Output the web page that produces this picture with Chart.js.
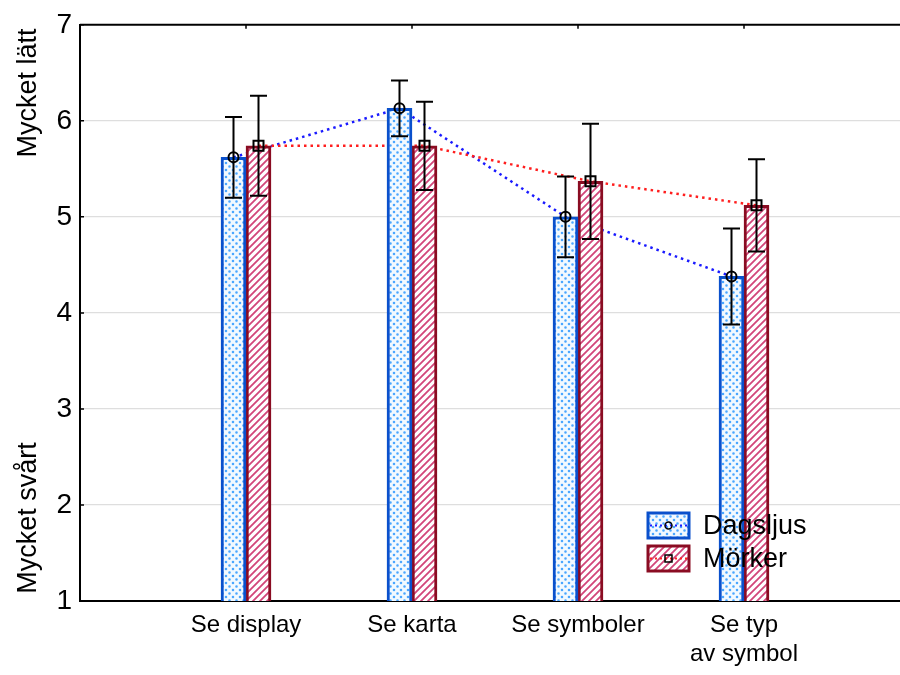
<!DOCTYPE html>
<html>
<head>
<meta charset="utf-8">
<script src="https://cdn.jsdelivr.net/npm/chart.js@4"></script>
<style>
  html, body { margin: 0; padding: 0; overflow: hidden; background: #fff; }
  #wrap { position: relative; width: 920px; height: 675px; }
</style>
</head>
<body>
<div id="wrap"><canvas id="chart"></canvas></div>
<script>
// Mean ratings (1 = Mycket svårt, 7 = Mycket lätt) with error bar half-widths
const categories = ['Se display', 'Se karta', 'Se symboler', ['Se typ', 'av symbol']];
const seriesNames = ['Dagsljus', 'Mörker'];
const dagsljus = [5.62, 6.13, 5.00, 4.38];
const dagsljusErr = [0.42, 0.29, 0.42, 0.50];
const morker = [5.74, 5.74, 5.37, 5.12];
const morkerErr = [0.52, 0.46, 0.60, 0.48];
const yTicks = [1, 2, 3, 4, 5, 6, 7];

const FONT = '"Liberation Sans", Arial, sans-serif';

// Fill patterns for the two series
function dotPattern() {
    const c = document.createElement('canvas');
    c.width = 7; c.height = 7;
    const g = c.getContext('2d');
    g.fillStyle = '#f2f9ff';
    g.fillRect(0, 0, 7, 7);
    g.fillStyle = '#4aa6ff';
    g.beginPath();
    g.arc(2, 2, 1.3, 0, Math.PI * 2);
    g.arc(5.5, 5.5, 1.3, 0, Math.PI * 2);
    g.fill();
    return g.createPattern(c, 'repeat');
}

function hatchPattern() {
    const c = document.createElement('canvas');
    c.width = 7; c.height = 7;
    const g = c.getContext('2d');
    g.fillStyle = '#ffffff';
    g.fillRect(0, 0, 7, 7);
    g.strokeStyle = '#d2467a';
    g.lineWidth = 1.8;
    g.beginPath();
    g.moveTo(-1, 8); g.lineTo(8, -1);
    g.moveTo(-1, 1); g.lineTo(1, -1);
    g.moveTo(6, 8); g.lineTo(8, 6);
    g.stroke();
    return g.createPattern(c, 'repeat');
}

const styles = [
    { border: '#0a50cc', fill: dotPattern(), line: '#1a1aff', marker: 'circle' },
    { border: '#8a0c22', fill: hatchPattern(), line: '#ff1e1e', marker: 'square' }
];
const errs = [dagsljusErr, morkerErr];

function drawMarker(ctx, type, x, y) {
    ctx.save();
    ctx.strokeStyle = '#000';
    ctx.lineWidth = 2;
    ctx.beginPath();
    if (type === 'circle') {
        ctx.arc(x, y, 5, 0, Math.PI * 2);
    } else {
        ctx.rect(x - 5, y - 5, 10, 10);
    }
    ctx.stroke();
    ctx.restore();
}

// Dotted lines between means (behind the bars), error bars and markers on top
const overlayPlugin = {
    id: 'overlay',
    beforeDatasetsDraw(chart) {
        const ctx = chart.ctx;
        ctx.save();
        ctx.beginPath();
        ctx.rect(chart.chartArea.left, chart.chartArea.top,
                 chart.chartArea.right - chart.chartArea.left,
                 chart.chartArea.bottom - chart.chartArea.top);
        ctx.clip();
        chart.data.datasets.forEach((ds, di) => {
            const pts = chart.getDatasetMeta(di).data;
            ctx.strokeStyle = styles[di].line;
            ctx.lineWidth = 2.5;
            ctx.setLineDash([2.5, 4]);
            ctx.beginPath();
            pts.forEach((p, i) => i ? ctx.lineTo(p.x, p.y) : ctx.moveTo(p.x, p.y));
            ctx.stroke();
        });
        ctx.restore();
    },
    afterDatasetsDraw(chart) {
        const ctx = chart.ctx;
        const yScale = chart.scales.y;
        chart.data.datasets.forEach((ds, di) => {
            const pts = chart.getDatasetMeta(di).data;
            pts.forEach((p, i) => {
                const v = ds.data[i].y;
                const top = yScale.getPixelForValue(v + errs[di][i]);
                const bot = yScale.getPixelForValue(v - errs[di][i]);
                ctx.save();
                ctx.strokeStyle = '#000';
                ctx.lineWidth = 2;
                ctx.beginPath();
                ctx.moveTo(p.x, top); ctx.lineTo(p.x, bot);
                ctx.moveTo(p.x - 8.5, top); ctx.lineTo(p.x + 8.5, top);
                ctx.moveTo(p.x - 8.5, bot); ctx.lineTo(p.x + 8.5, bot);
                ctx.stroke();
                ctx.restore();
                drawMarker(ctx, styles[di].marker, p.x, p.y);
            });
        });
    },
    afterDraw(chart) {
        const ctx = chart.ctx;
        const a = chart.chartArea;
        const xScale = chart.scales.x;
        const yScale = chart.scales.y;
        ctx.save();
        // top frame line with inward ticks
        ctx.strokeStyle = '#000';
        ctx.lineWidth = 2;
        ctx.beginPath();
        ctx.moveTo(a.left, a.top); ctx.lineTo(a.right, a.top);
        ctx.stroke();
        ctx.lineWidth = 1.5;
        ctx.beginPath();
        categories.forEach((c, i) => {
            const x = xScale.getPixelForValue(i + 1);
            ctx.moveTo(x, a.top); ctx.lineTo(x, a.top + 4);
        });
        yTicks.forEach(t => {
            const y = yScale.getPixelForValue(t);
            ctx.moveTo(a.left, y); ctx.lineTo(a.left + 4, y);
        });
        ctx.stroke();

        // two-part y axis title
        ctx.fillStyle = '#000';
        ctx.font = '27px ' + FONT;
        ctx.textAlign = 'center';
        ctx.textBaseline = 'alphabetic';
        [['Mycket lätt', 93], ['Mycket svårt', 518]].forEach(([t, cy]) => {
            ctx.save();
            ctx.translate(36, cy);
            ctx.rotate(-Math.PI / 2);
            ctx.fillText(t, 0, 0);
            ctx.restore();
        });

        // legend inside the plot
        const lx = 648, ly = 513, bw = 41, bh = 25, gap = 33;
        seriesNames.forEach((name, di) => {
            const y = ly + di * gap;
            const s = styles[di];
            ctx.fillStyle = s.fill;
            ctx.fillRect(lx, y, bw, bh);
            ctx.strokeStyle = s.line;
            ctx.lineWidth = 2;
            ctx.setLineDash([2, 3]);
            ctx.beginPath();
            ctx.moveTo(lx + 2, y + bh / 2); ctx.lineTo(lx + bw - 2, y + bh / 2);
            ctx.stroke();
            ctx.setLineDash([]);
            ctx.strokeStyle = s.border;
            ctx.lineWidth = 3;
            ctx.strokeRect(lx, y, bw, bh);
            ctx.save();
            ctx.lineWidth = 1.5;
            ctx.strokeStyle = '#000';
            ctx.beginPath();
            if (s.marker === 'circle') ctx.arc(lx + bw / 2, y + bh / 2, 3.5, 0, Math.PI * 2);
            else ctx.rect(lx + bw / 2 - 3.5, y + bh / 2 - 3.5, 7, 7);
            ctx.stroke();
            ctx.restore();
            ctx.fillStyle = '#000';
            ctx.font = '27px ' + FONT;
            ctx.textAlign = 'left';
            ctx.textBaseline = 'middle';
            ctx.fillText(name, 703, y + bh / 2 + 1);
        });
        ctx.restore();
    }
};

const seriesValues = [dagsljus, morker];

new Chart(document.getElementById('chart'), {
    type: 'bar',
    data: {
        datasets: seriesNames.map((name, di) => ({
            label: name,
            data: seriesValues[di].map((v, i) => ({ x: i + 1, y: v })),
            backgroundColor: styles[di].fill,
            borderColor: styles[di].border,
            borderWidth: 3,
            borderSkipped: false,
            barThickness: 25
        }))
    },
    options: {
        responsive: true,
        maintainAspectRatio: false,
        animation: false,
        layout: { padding: { top: 20, right: 10, left: 0, bottom: 0 } },
        plugins: {
            legend: { display: false },
            tooltip: { enabled: false }
        },
        scales: {
            x: {
                type: 'linear',
                min: 0,
                max: 5,
                offset: false,
                grid: { display: false, offset: false, drawTicks: false },
                border: { color: '#000', width: 2 },
                afterFit(scale) { scale.height = 74; },
                ticks: {
                    stepSize: 1,
                    autoSkip: false,
                    maxRotation: 0,
                    padding: 10,
                    color: '#000',
                    font: { family: FONT, size: 24, lineHeight: 1.2 },
                    callback: v => categories[v - 1] || ''
                }
            },
            y: {
                min: 1,
                max: 7,
                afterFit(scale) { scale.width = 80; },
                grid: {
                    drawTicks: false,
                    lineWidth: 1.2,
                    color: c => (c.tick && c.tick.value > 1 && c.tick.value < 7) ? '#dedede' : 'rgba(0,0,0,0)'
                },
                border: { color: '#000', width: 2 },
                ticks: {
                    stepSize: 1,
                    padding: 8,
                    color: '#000',
                    font: { family: FONT, size: 28 }
                }
            }
        }
    },
    plugins: [overlayPlugin]
});
</script>
</body>
</html>
